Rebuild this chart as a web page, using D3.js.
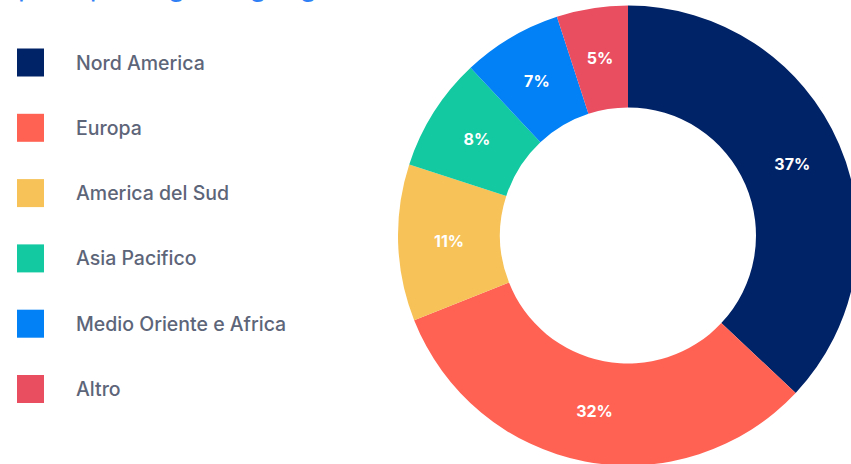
<!DOCTYPE html>
<html>
<head>
<meta charset="utf-8">
<script src="https://cdn.jsdelivr.net/npm/d3@7"></script>
<style>
  html, body { margin: 0; padding: 0; background: #ffffff; overflow: hidden; }
  svg { display: block; }
</style>
</head>
<body>
<svg id="chart" width="851" height="464"></svg>
<script>
const titleText = "Spesa per regione geografica";
const categories = ["Nord America", "Europa", "America del Sud", "Asia Pacifico", "Medio Oriente e Africa", "Altro"];
const values = [37, 32, 11, 8, 7, 5];
const colors = ["#002266", "#ff6153", "#f7c257", "#12c9a1", "#0280f6", "#e94d60"];

const svg = d3.select("#chart");

// clipped title (only descenders visible, as in the reference)
svg.append("text")
  .attr("x", 0).attr("y", -4)
  .attr("font-family", "Inter, 'Open Sans', sans-serif")
  .attr("font-size", 28)
  .attr("fill", "#2f80f4")
  .text(titleText);

const color = d3.scaleOrdinal().domain(categories).range(colors);

// legend
const legendY = d3.scalePoint().domain(categories).range([62.5, 389]);
const legend = svg.append("g");
const item = legend.selectAll("g").data(categories).join("g")
  .attr("transform", d => `translate(0,${legendY(d)})`);
item.append("rect")
  .attr("x", 17).attr("y", -14).attr("width", 27).attr("height", 28)
  .attr("fill", d => color(d));
item.append("text")
  .attr("x", 76).attr("y", 0)
  .attr("dy", "0.36em")
  .attr("font-family", "Inter, 'Open Sans', sans-serif")
  .attr("font-size", 19.5)
  .attr("font-weight", 500)
  .attr("fill", "#5d6579")
  .text(d => d);

// donut
const cx = 628, cy = 235.5, rOuter = 230, rInner = 128;
const data = categories.map((c, i) => ({ name: c, value: values[i] }));
const pie = d3.pie().value(d => d.value).sort(null);
const arc = d3.arc().innerRadius(rInner).outerRadius(rOuter);
const g = svg.append("g").attr("transform", `translate(${cx},${cy})`);
const arcs = pie(data);
g.selectAll("path").data(arcs).join("path")
  .attr("d", arc)
  .attr("fill", d => color(d.data.name));
g.selectAll("text").data(arcs).join("text")
  .attr("transform", d => `translate(${arc.centroid(d)})`)
  .attr("text-anchor", "middle")
  .attr("dy", "0.36em")
  .attr("font-family", "Inter, 'Open Sans', sans-serif")
  .attr("font-weight", 700)
  .attr("font-size", 16)
  .attr("fill", "#ffffff")
  .text(d => d.data.value + "%");
</script>
</body>
</html>
